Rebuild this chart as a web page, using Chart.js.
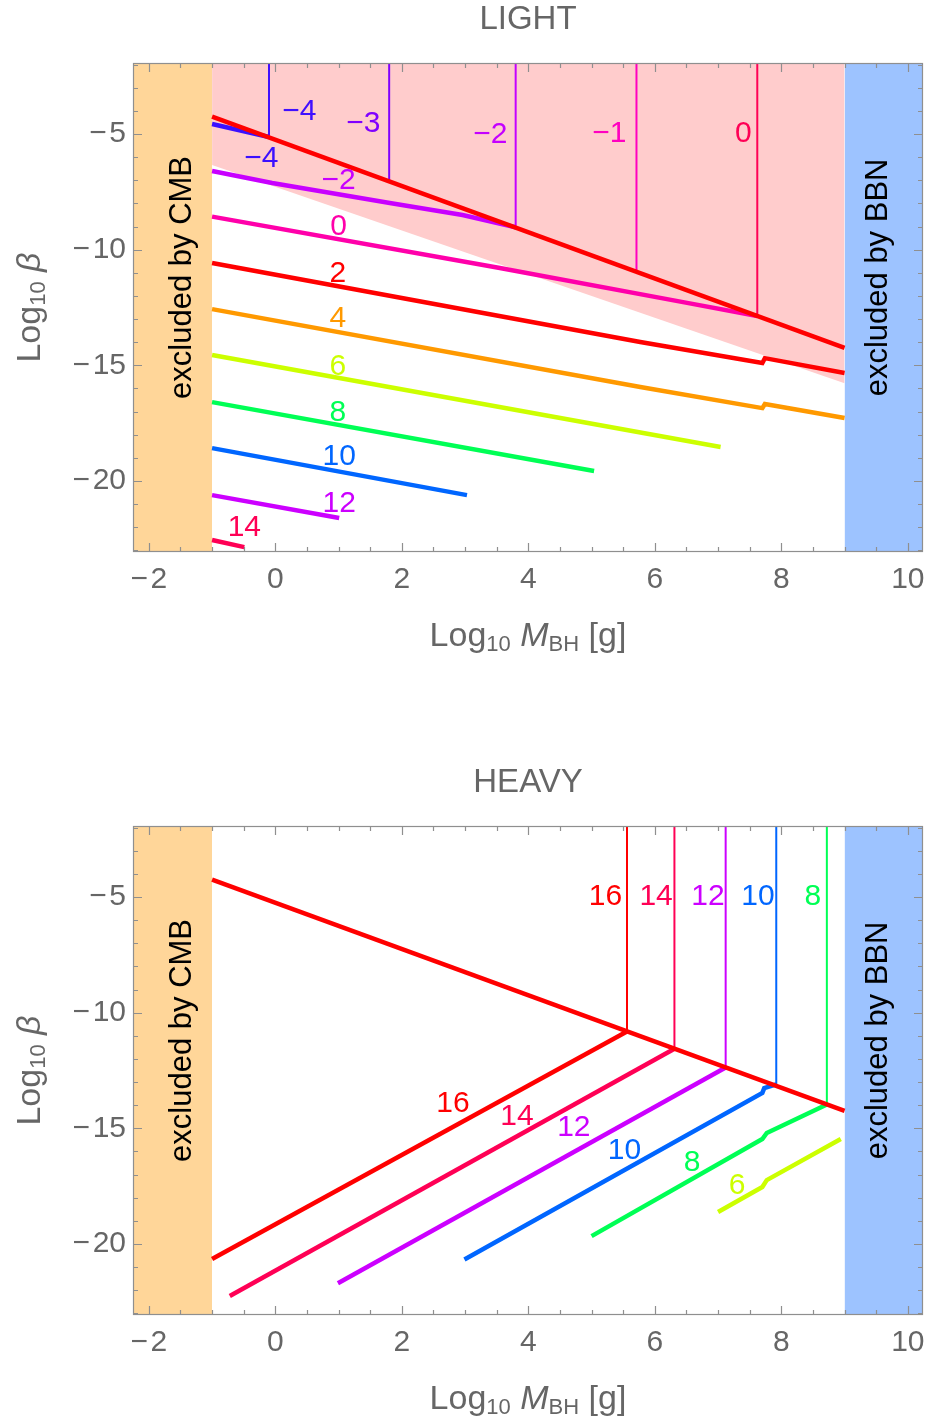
<!DOCTYPE html>
<html lang="en">
<head>
<meta charset="UTF-8">
<title>PBH abundance bounds</title>
<script src="https://cdn.jsdelivr.net/npm/chart.js@4"></script>
<style>
  body { margin: 0; background: #fff; }
  canvas { display: block; }
</style>
</head>
<body>
<canvas id="lightChart" width="931" height="763"></canvas>
<canvas id="heavyChart" width="931" height="660"></canvas>
<script>
// ---- axes ----
const xRange = [-2.25, 10.24];
const yRange = [-23.07, -1.93];
const xTickLabels = [-2, 0, 2, 4, 6, 8, 10];
const yTickLabels = [-5, -10, -15, -20];

// ---- excluded regions ----
const cmbBandX = [-2.25, -1];
const bbnBandX = [9, 10.24];
const bandNames = ['excluded by CMB', 'excluded by BBN'];
const bandNameX = [-1.5, 9.5];
const bandNameY = [-11.2, -11.2];

// upper boundary line (both panels)
const boundaryX = [-1, 9];
const boundaryY = [-4.25, -14.25];

// ---- LIGHT panel ----
const lightShadeX = [-1, 9];
const lightShadeY = [-6.34, -15.77];

const lightSlopeNames = ['\u22124', '\u22122', '0', '2', '4', '6', '8', '10', '12', '14'];
const lightSlopeX = [
  [-1, -0.1],
  [-1, -0.05, 1.81, 2.96, 3.8],
  [-1, 3.55, 6.51, 7.62],
  [-1, 5.77, 7.7, 7.74, 9],
  [-1, 5.77, 7.7, 7.74, 9],
  [-1, 7.04],
  [-1, 5.04],
  [-1, 3.03],
  [-1, 1.01],
  [-1, -0.49]
];
const lightSlopeY = [
  [-4.57, -5.13],
  [-6.6, -7.12, -7.98, -8.5, -9.03],
  [-8.57, -10.79, -12.3, -12.87],
  [-10.58, -13.99, -14.9, -14.69, -15.33],
  [-12.57, -15.94, -16.85, -16.67, -17.28],
  [-14.55, -18.53],
  [-16.59, -19.57],
  [-18.58, -20.61],
  [-20.61, -21.6],
  [-22.55, -22.86]
];
const lightSlopeLabelX = [-0.22, 1.0, 1.0, 0.99, 0.99, 0.99, 0.99, 1.01, 1.01, -0.49];
const lightSlopeLabelY = [-6.05, -7.02, -9.0, -11.02, -12.97, -15.06, -17.05, -18.95, -21.0, -22.0];

const lightVertNames = ['\u22124', '\u22123', '\u22122', '\u22121', '0'];
const lightVertX = [-0.1, 1.8, 3.8, 5.71, 7.62];
const lightVertLow = [-5.13, -7.05, -9.03, -10.96, -12.87];
const lightVertLabelX = [0.38, 1.39, 3.4, 5.28, 7.4];
const lightVertLabelY = [-4.03, -4.54, -5.04, -4.97, -4.97];

// ---- HEAVY panel ----
const heavyNames = ['16', '14', '12', '10', '8', '6'];
const heavyDiagX = [
  [-1, 5.56],
  [-0.72, 6.31],
  [0.99, 7.12],
  [2.99, 7.7, 7.73, 7.92],
  [5.0, 7.7, 7.77, 8.72],
  [7.0, 7.7, 7.77, 8.94]
];
const heavyDiagY = [
  [-20.65, -10.81],
  [-22.25, -11.56],
  [-21.7, -12.37],
  [-20.67, -13.47, -13.26, -13.1],
  [-19.66, -15.46, -15.2, -13.97],
  [-18.62, -17.54, -17.24, -15.46]
];
const heavyDiagLabelX = [2.81, 3.82, 4.72, 5.52, 6.59, 7.3];
const heavyDiagLabelY = [-13.95, -14.51, -14.99, -15.98, -16.5, -17.47];

const heavyVertX = [5.56, 6.31, 7.12, 7.92, 8.72];
const heavyVertLow = [-10.81, -11.56, -12.37, -13.1, -13.97];
const heavyVertLabelX = [5.22, 6.02, 6.84, 7.63, 8.5];
const heavyVertLabelY = [-5, -5, -5, -5, -5];

// ---- styles ----
const FONT = "'Liberation Sans', Arial, sans-serif";
const GREY = '#666';
const FRAME = '#8f8f8f';
const cmbColor = '#ffd699';
const bbnColor = '#9dc3ff';
const shadeColor = '#ffcccc';
const boundaryColor = '#ff0000';
const lightSlopeColors = ['#3a10ff', '#c800ff', '#ff00aa', '#ff0000', '#ff9900', '#ccff00', '#00ff55', '#0066ff', '#cc00ff', '#ff0055'];
const lightVertColors = ['#4010ff', '#8000ff', '#c400ff', '#ff00c0', '#ff0055'];
const heavyColors = ['#ff0000', '#ff0055', '#cc00ff', '#0066ff', '#00ff55', '#ccff00'];

Chart.defaults.font.family = FONT;

function pts(xs, ys) {
  return xs.map((x, i) => ({ x: x, y: ys[i] }));
}

function lineSet(xs, ys, color, width) {
  return {
    data: pts(xs, ys), borderColor: color, borderWidth: width,
    pointRadius: 0, tension: 0, fill: false, order: 0
  };
}

function fillSet(xs, ys, color, fill) {
  return {
    data: pts(xs, ys), borderWidth: 0, borderColor: color, backgroundColor: color,
    pointRadius: 0, fill: fill, order: 20
  };
}

function fmt(v) {
  return v < 0 ? '\u2212\u200a' + Math.abs(v) : String(v);
}

// draws a row of text pieces, some shrunk and lowered as subscripts
function drawPieces(ctx, pieces, x0, y0) {
  let w = 0;
  pieces.forEach(p => { ctx.font = p.font; w += ctx.measureText(p.t).width; });
  let x = x0 - w / 2;
  pieces.forEach(p => {
    ctx.font = p.font;
    ctx.fillText(p.t, x, y0 + (p.dy || 0));
    x += ctx.measureText(p.t).width;
  });
}

function decorPlugin(labels) {
  return {
    id: 'decor',
    afterDatasetsDraw(chart) {
      const { ctx, chartArea: a, scales: { x, y } } = chart;
      ctx.save();

      // band captions
      ctx.fillStyle = '#000';
      ctx.font = '31px ' + FONT;
      ctx.textAlign = 'center';
      ctx.textBaseline = 'alphabetic';
      bandNames.forEach((t, i) => {
        ctx.save();
        ctx.translate(x.getPixelForValue(bandNameX[i]) + 11, y.getPixelForValue(bandNameY[i]));
        ctx.rotate(-Math.PI / 2);
        ctx.fillText(t, 0, 0);
        ctx.restore();
      });

      // contour labels
      ctx.font = '30px ' + FONT;
      ctx.textBaseline = 'middle';
      labels.forEach(l => {
        ctx.fillStyle = l.color;
        ctx.fillText(l.text, x.getPixelForValue(l.x), y.getPixelForValue(l.y));
      });

      // frame with inward ticks on all sides
      ctx.strokeStyle = FRAME;
      ctx.lineWidth = 1.2;
      ctx.strokeRect(a.left + 0.5, a.top + 0.5, a.width - 1, a.height - 1);
      ctx.beginPath();
      x.ticks.forEach(t => {
        const px = Math.round(x.getPixelForValue(t.value)) + 0.5;
        const len = xTickLabels.includes(t.value) ? 9 : 5;
        ctx.moveTo(px, a.bottom); ctx.lineTo(px, a.bottom - len);
        ctx.moveTo(px, a.top); ctx.lineTo(px, a.top + len);
      });
      y.ticks.forEach(t => {
        const py = Math.round(y.getPixelForValue(t.value)) + 0.5;
        const len = yTickLabels.includes(t.value) ? 9 : 5;
        ctx.moveTo(a.left, py); ctx.lineTo(a.left + len, py);
        ctx.moveTo(a.right, py); ctx.lineTo(a.right - len, py);
      });
      ctx.stroke();
      ctx.restore();
    },
    afterDraw(chart) {
      const { ctx, chartArea: a } = chart;
      ctx.save();
      ctx.fillStyle = GREY;
      ctx.textAlign = 'left';
      ctx.textBaseline = 'alphabetic';
      const big = '34px ' + FONT, small = '22px ' + FONT;
      drawPieces(ctx, [
        { t: 'Log', font: big }, { t: '10', font: small, dy: 5 }, { t: ' ', font: big },
        { t: 'M', font: 'italic ' + big }, { t: 'BH', font: small, dy: 5 }, { t: ' [g]', font: big }
      ], (a.left + a.right) / 2, a.bottom + 94);
      ctx.translate(40, (a.top + a.bottom) / 2);
      ctx.rotate(-Math.PI / 2);
      drawPieces(ctx, [
        { t: 'Log', font: big }, { t: '10', font: small, dy: 5 }, { t: ' ', font: big },
        { t: '\u03b2', font: 'italic ' + big }
      ], 0, 0);
      ctx.restore();
    }
  };
}

function makeChart(id, title, datasets, labels, height) {
  const xTicks = [], yTicks = [];
  for (let v = -2; v <= 10; v += 0.5) xTicks.push(v);
  for (let v = -23; v <= -2; v += 1) yTicks.push(v);
  return new Chart(document.getElementById(id), {
    type: 'line',
    data: { datasets: datasets },
    plugins: [decorPlugin(labels)],
    options: {
      responsive: false,
      animation: false,
      layout: { padding: { left: 0, right: 8, top: 0, bottom: 0 } },
      plugins: {
        legend: { display: false },
        tooltip: { enabled: false },
        title: {
          display: true, text: title, color: GREY, fullSize: false,
          font: { size: 33, weight: 'normal', lineHeight: 1.2 },
          padding: { top: 0, bottom: 23.4 }
        }
      },
      scales: {
        x: {
          type: 'linear', min: xRange[0], max: xRange[1],
          grid: { display: false, drawTicks: false },
          border: { display: false },
          afterBuildTicks: s => { s.ticks = xTicks.map(v => ({ value: v })); },
          ticks: {
            autoSkip: false, maxRotation: 0, padding: 10, color: GREY,
            font: { size: 30 },
            callback: v => xTickLabels.includes(v) ? fmt(v) : ''
          },
          afterFit: s => { s.height = height - 552; s.paddingLeft = 0; s.paddingRight = 0; }
        },
        y: {
          type: 'linear', min: yRange[0], max: yRange[1],
          grid: { display: false, drawTicks: false },
          border: { display: false },
          afterBuildTicks: s => { s.ticks = yTicks.map(v => ({ value: v })); },
          ticks: {
            autoSkip: false, padding: 7, color: GREY,
            font: { size: 30 },
            callback: v => yTickLabels.includes(v) ? fmt(v) : ''
          },
          afterFit: s => { s.width = 133; s.paddingTop = 0; s.paddingBottom = 0; }
        }
      }
    }
  });
}

function bandSets() {
  return [
    fillSet(cmbBandX, [yRange[1], yRange[1]], cmbColor, 'start'),
    fillSet(bbnBandX, [yRange[1], yRange[1]], bbnColor, 'start')
  ];
}

// LIGHT
const lightSets = [lineSet(boundaryX, boundaryY, boundaryColor, 4.5)];
const lightLabels = [];
lightVertNames.forEach((n, i) => {
  lightSets.push(lineSet([lightVertX[i], lightVertX[i]], [lightVertLow[i], yRange[1]], lightVertColors[i], 2));
  lightLabels.push({ text: n, x: lightVertLabelX[i], y: lightVertLabelY[i], color: lightVertColors[i] });
});
lightSlopeNames.forEach((n, i) => {
  lightSets.push(lineSet(lightSlopeX[i], lightSlopeY[i], lightSlopeColors[i], 4.5));
  lightLabels.push({ text: n, x: lightSlopeLabelX[i], y: lightSlopeLabelY[i], color: lightSlopeColors[i] });
});
lightSets.push(fillSet(lightShadeX, lightShadeY, shadeColor, 'end'));
bandSets().forEach(d => lightSets.push(d));
makeChart('lightChart', 'LIGHT', lightSets, lightLabels, 763);

// HEAVY
const heavySets = [lineSet(boundaryX, boundaryY, boundaryColor, 4.5)];
const heavyLabels = [];
heavyVertX.forEach((vx, i) => {
  heavySets.push(lineSet([vx, vx], [heavyVertLow[i], yRange[1]], heavyColors[i], 2));
  heavyLabels.push({ text: heavyNames[i], x: heavyVertLabelX[i], y: heavyVertLabelY[i], color: heavyColors[i] });
});
heavyNames.forEach((n, i) => {
  heavySets.push(lineSet(heavyDiagX[i], heavyDiagY[i], heavyColors[i], 4.5));
  heavyLabels.push({ text: n, x: heavyDiagLabelX[i], y: heavyDiagLabelY[i], color: heavyColors[i] });
});
bandSets().forEach(d => heavySets.push(d));
makeChart('heavyChart', 'HEAVY', heavySets, heavyLabels, 660);
</script>
</body>
</html>
